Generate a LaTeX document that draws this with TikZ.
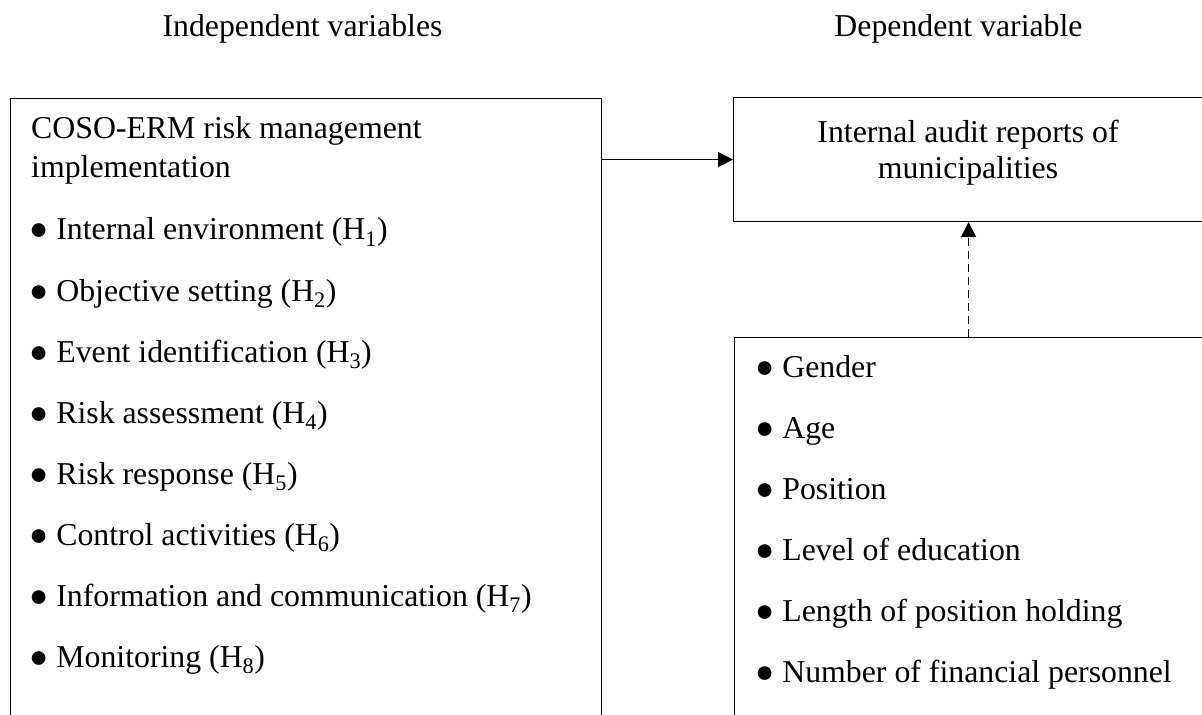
\documentclass[tikz,border=0pt]{standalone}
\usepackage{fontspec}
\setmainfont{Liberation Serif}
\usetikzlibrary{arrows.meta,positioning}

\begin{document}
\begin{tikzpicture}[
  x=1bp, y=-1bp,
  font=\fontsize{31.8bp}{38bp}\selectfont,
  >={Triangle[length=15bp,width=15bp]},
  % Block styles
  varbox/.style={draw, line width=1.1bp, anchor=north west, inner sep=0pt},
  heading/.style={anchor=base, inner sep=0pt},
  item/.style={anchor=base west, inner sep=0pt},
  arrow/.style={->, line width=1.3bp},
  dasharrow/.style={->, line width=1.3bp, dash pattern=on 8bp off 5bp}
]
\useasboundingbox (0,0) rectangle (1202,715);
\clip (0,0) rectangle (1202,715);

% ── Headings ─────────────────────────────────────────────────────────────────
\node[heading] (tindep) at (302.5,37) {Independent variables};
\node[heading] (tdep)   at (958.5,37) {Dependent variable};

% ── Boxes (cut off by the page edge) ─────────────────────────────────────────
\node[varbox, minimum width=591bp, minimum height=700bp] (indep) at (10,98)  {};
\node[varbox, minimum width=470bp, minimum height=124bp] (dep)   at (733,97) {};
\node[varbox, minimum width=470bp, minimum height=500bp] (ctrl)  at (734,337) {};

% ── Independent variables ────────────────────────────────────────────────────
\node[item] (coso1) at (31,139) {COSO-ERM risk management};
\node[item] (coso2) at (31,178) {implementation};
\node[item] (h1) at (29,240) {● Internal environment (H\textsubscript{1})};
\node[item] (h2) at (29,301) {● Objective setting (H\textsubscript{2})};
\node[item] (h3) at (29,362) {● Event identification (H\textsubscript{3})};
\node[item] (h4) at (29,423) {● Risk assessment (H\textsubscript{4})};
\node[item] (h5) at (29,484) {● Risk response (H\textsubscript{5})};
\node[item] (h6) at (29,545) {● Control activities (H\textsubscript{6})};
\node[item] (h7) at (29,606) {● Information and communication (H\textsubscript{7})};
\node[item] (h8) at (29,667) {● Monitoring (H\textsubscript{8})};

% ── Dependent variable ───────────────────────────────────────────────────────
\node[heading] (dep1) at (968,143) {Internal audit reports of};
\node[heading] (dep2) at (968,179) {municipalities};

% ── Control variables ────────────────────────────────────────────────────────
\node[item] (c1) at (755,377) {● Gender};
\node[item] (c2) at (755,438) {● Age};
\node[item] (c3) at (755,499) {● Position};
\node[item] (c4) at (755,560) {● Level of education};
\node[item] (c5) at (755,621) {● Length of position holding};
\node[item] (c6) at (755,682) {● Number of financial personnel};

% ── Arrows ───────────────────────────────────────────────────────────────────
\draw[arrow] (indep.east |- dep.west) -- (dep.west);
\draw[dasharrow] (ctrl.north -| dep.south) -- (dep.south);

\end{tikzpicture}
\end{document}
